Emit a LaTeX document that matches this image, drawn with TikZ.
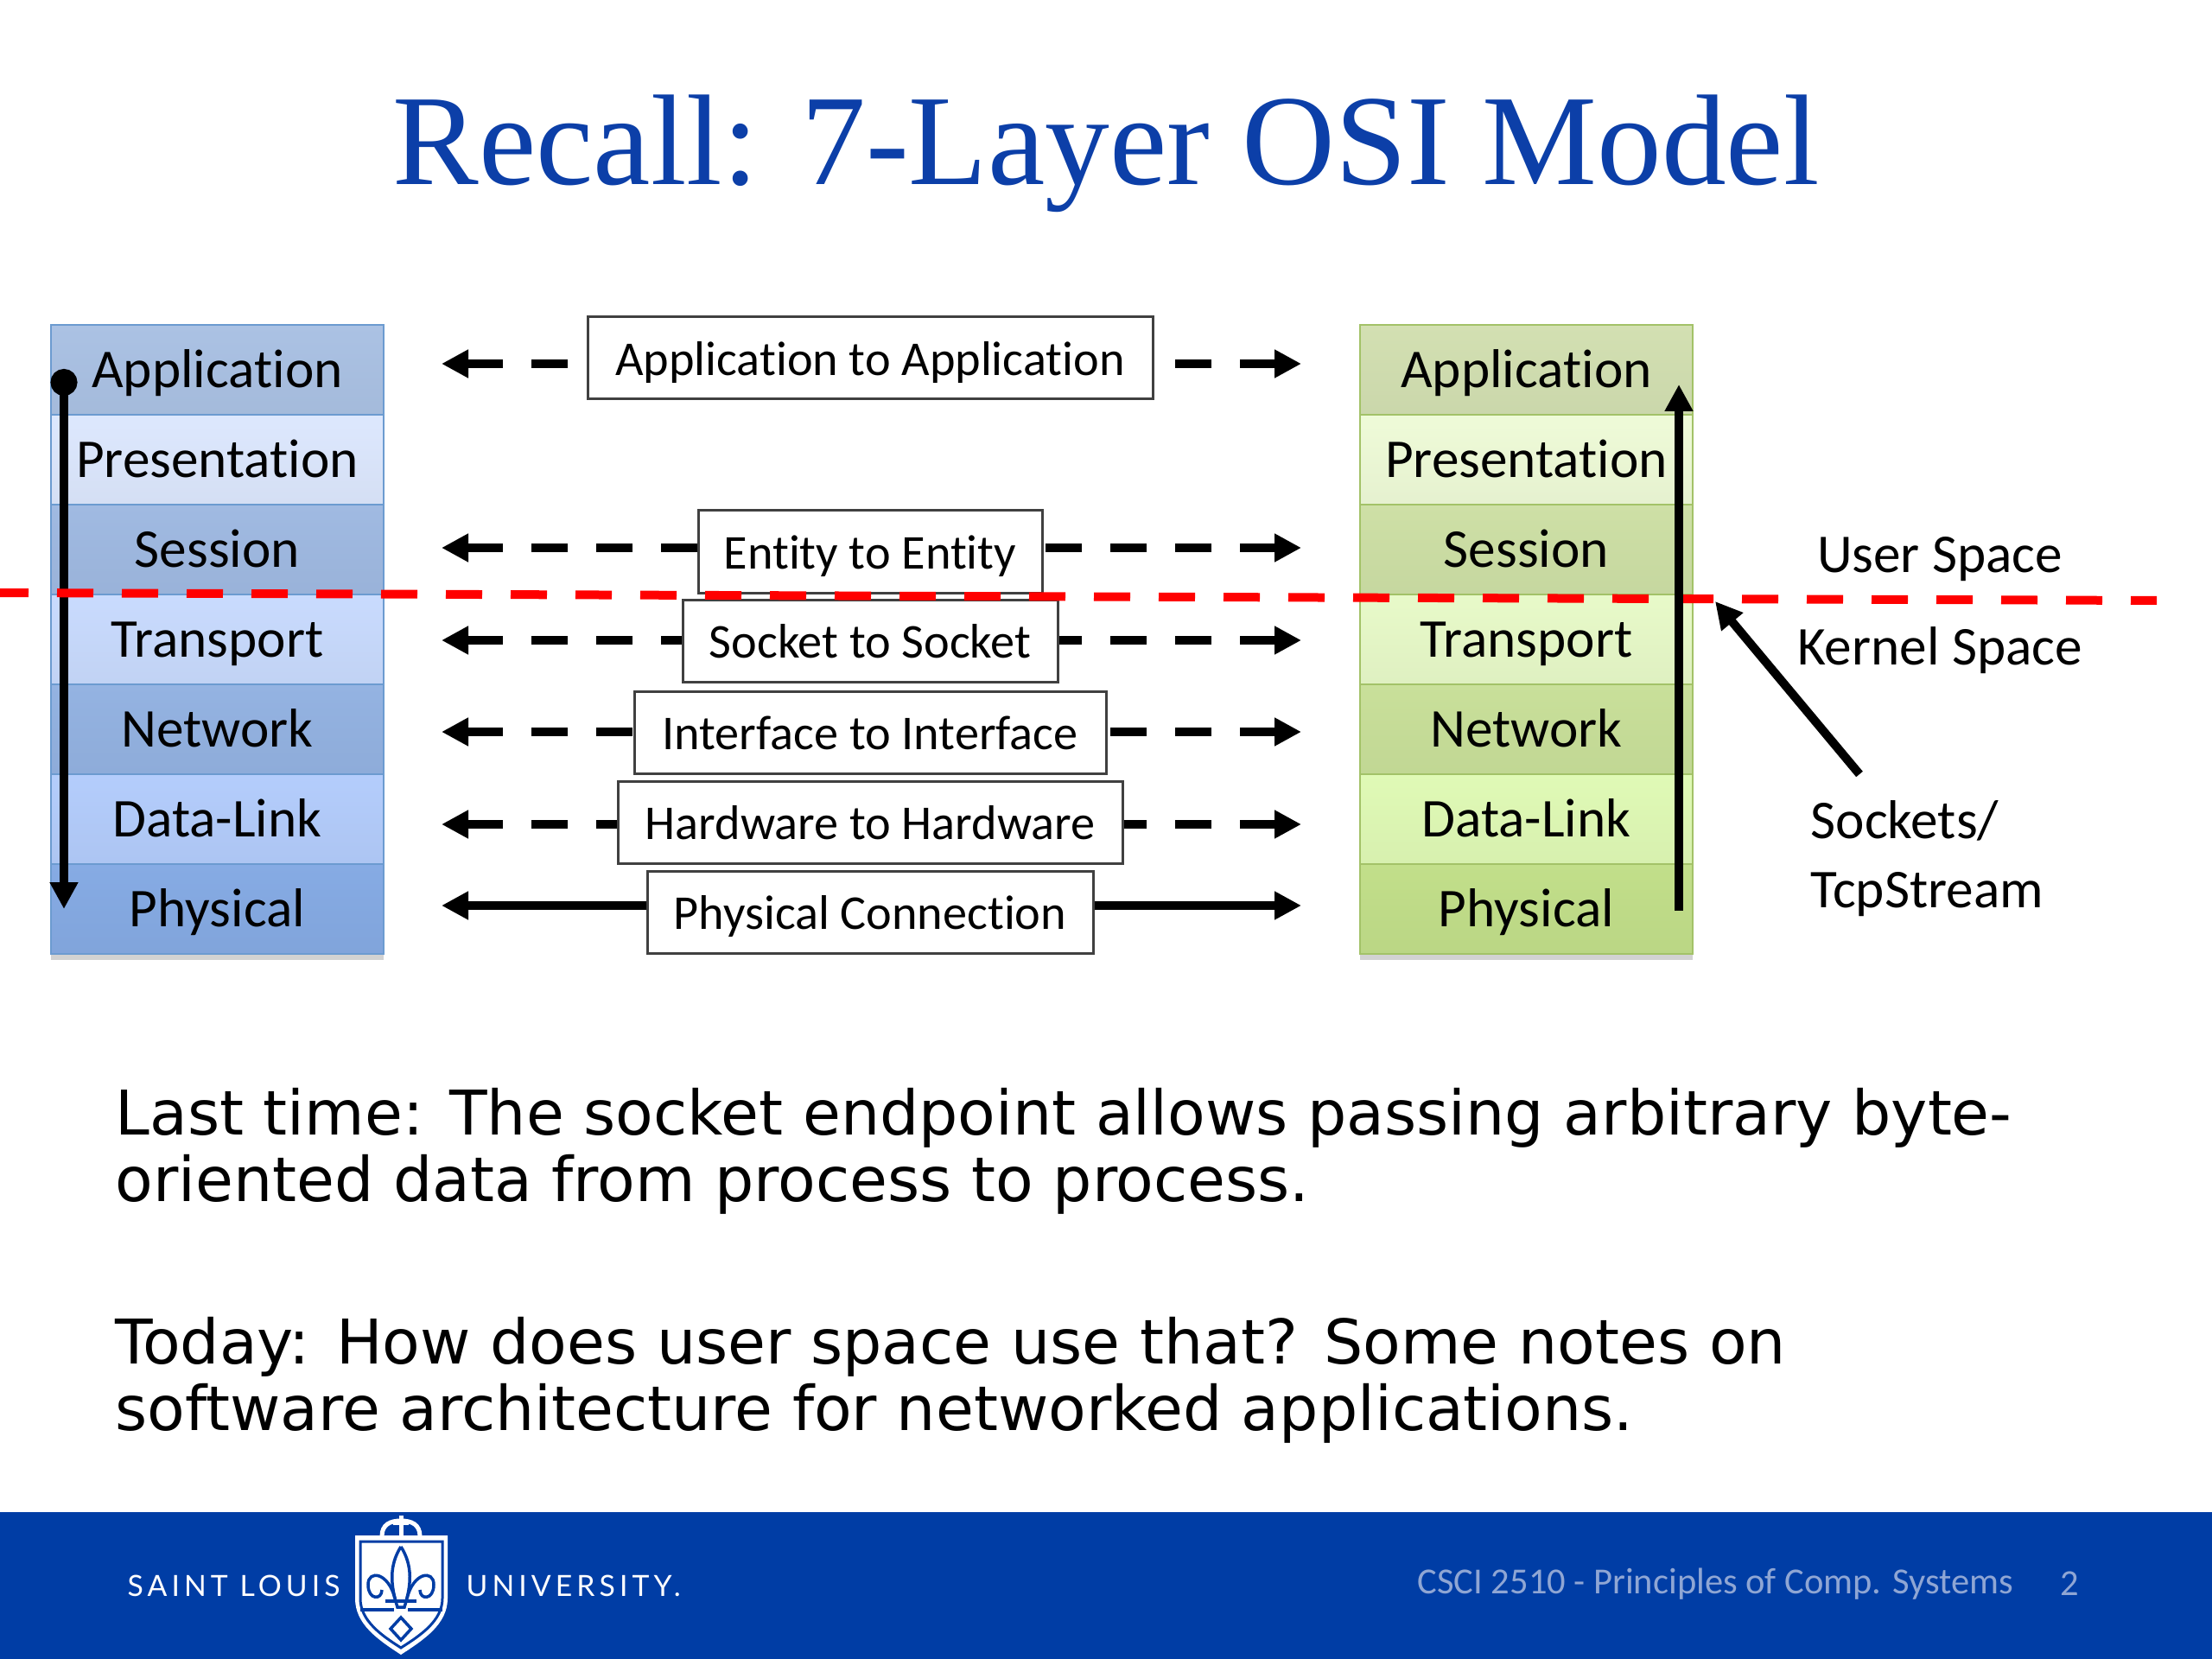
\documentclass[tikz,border=0pt]{standalone}
\usepackage{fontspec}
\setmainfont{Carlito}[Ligatures=CommonOff]
\newfontfamily\titlefont{Liberation Serif}
\newfontfamily\bodyfont{DejaVu Sans}
\newfontfamily\logofont[LetterSpace=15]{Lato}
\usepackage{xcolor}
\usetikzlibrary{positioning,arrows.meta,calc,shadows}
\definecolor{slublue}{HTML}{003DA5}
\definecolor{titleblue}{HTML}{0C3FA8}
\definecolor{footgray}{HTML}{8FA6D4}
\definecolor{lstack}{HTML}{6C9BD0}
\definecolor{rstack}{HTML}{A3C268}
\definecolor{lc1}{HTML}{ABC2E4}
\definecolor{lc2}{HTML}{DDE8FE}
\definecolor{lc3}{HTML}{A0BAE2}
\definecolor{lc4}{HTML}{C9DBFE}
\definecolor{lc5}{HTML}{94B3E2}
\definecolor{lc6}{HTML}{B4CDFC}
\definecolor{lc7}{HTML}{86ABE4}
\definecolor{rc1}{HTML}{D3E0B2}
\definecolor{rc2}{HTML}{EFFBD8}
\definecolor{rc3}{HTML}{CEE0A6}
\definecolor{rc4}{HTML}{E8FAC9}
\definecolor{rc5}{HTML}{C9E09A}
\definecolor{rc6}{HTML}{E0FAB6}
\definecolor{rc7}{HTML}{C2DF8A}

\begin{document}
\begin{tikzpicture}[
  x=1cm,y=-1cm,
  >={Triangle[length=0.31cm,width=0.31cm]},
  lay/.style={minimum width=3.85cm,minimum height=1.04cm,inner sep=0pt,outer sep=0pt,
    font=\fontsize{18}{22}\selectfont,text height=15.3pt,text depth=3.5pt,
    drop shadow={shadow xshift=0pt,shadow yshift=-2pt,opacity=0.35}},
  peer/.style={draw=black!75,line width=0.03cm,fill=white,minimum height=0.95cm,inner sep=0pt,
    font=\fontsize{16}{20}\selectfont,text height=14.3pt,text depth=3pt},
  dashline/.style={line width=0.1cm,dash pattern=on 0.42cm off 0.33cm},
  solidline/.style={line width=0.1cm},
  side/.style={font=\fontsize{18}{22.6}\selectfont,align=left,inner sep=0pt},
  body/.style={font=\bodyfont\fontsize{20.3}{21.7}\selectfont,align=left,anchor=north west,inner sep=0pt},
]
\useasboundingbox (0,0) rectangle (25.6,19.2);
\fill[white] (0,0) rectangle (25.6,19.2);
\node[font=\titlefont\fontsize{42.5}{46}\selectfont,text=titleblue] (title) at (12.8,1.78) {Recall: 7-Layer OSI Model};

% two stacks
\foreach \i/\lab in {1/Application,2/Presentation,3/Session,4/Transport,5/Network,6/Data-Link,7/Physical}{
  \node[lay,draw=lstack,top color=lc\i,bottom color=lc\i!96!black] (L\i) at (2.515,{4.28+1.04*(\i-1)}) {\lab};
  \node[lay,draw=rstack,top color=rc\i,bottom color=rc\i!96!black] (R\i) at (17.665,{4.28+1.04*(\i-1)}) {\lab};
}

% peer boxes and their arrows
\foreach \k/\cy/\w/\ay/\st/\lab in {1/4.145/6.54/4.21/dashline/Application to Application,
    2/6.385/3.98/6.34/dashline/Entity to Entity,
    3/7.42/4.34/7.41/dashline/Socket to Socket,
    4/8.48/5.46/8.47/dashline/Interface to Interface,
    5/9.52/5.84/9.54/dashline/Hardware to Hardware,
    6/10.56/5.16/10.48/solidline/Physical Connection}{
  \node[peer,minimum width=\w cm] (B\k) at (10.07,\cy) {\lab};
  \coordinate (pl\k) at (5.11,\ay);
  \coordinate (pr\k) at (15.06,\ay);
  \draw[<-,\st] (pl\k) -- (pl\k -| B\k.west);
  \draw[<-,\st] (pr\k) -- (pr\k -| B\k.east);
}

% send path
\coordinate (sendtop) at (0.74,4.27);
\coordinate (sendbot) at (0.74,10.52);
\draw[{Circle[length=0.31cm]}->,line width=0.1cm] (sendtop) -- (sendbot);

% user/kernel split
\coordinate (splitl) at (0,6.86);
\coordinate (splitr) at (24.96,6.95);
\draw[red,line width=0.1cm,dash pattern=on 0.42cm off 0.33cm,dash phase=0.09cm] (splitl) -- (splitr);

% receive path
\coordinate (recvbot) at (19.43,10.54);
\coordinate (recvtop) at (19.43,4.45);
\draw[->,line width=0.1cm] (recvbot) -- (recvtop);

\node[side] (user) at (22.45,6.47) {User Space};
\node[side] (kernel) at (22.45,7.53) {Kernel Space};
\node[side,anchor=north west] (sock) at (20.95,9.26) {Sockets/\\TcpStream};
\coordinate (socktail) at (21.52,8.96);
\coordinate (socktip) at (19.85,6.96);
\draw[->,line width=0.1cm] (socktail) -- (socktip);

\node[body] (last) at (1.33,12.59) {Last time: The socket endpoint allows passing arbitrary byte-\\oriented data from process to process.};
\node[body] (today) at (1.33,15.24) {Today: How does user space use that? Some notes on\\software architecture for networked applications.};

% footer
\fill[slublue] (0,17.5) rectangle (25.6,19.2);
\node[font=\logofont\fontsize{9.6}{12}\selectfont,text=white,anchor=west,inner sep=0pt] (slu) at (1.47,18.35) {SAINT LOUIS};
\node[font=\logofont\fontsize{9.6}{12}\selectfont,text=white,anchor=west,inner sep=0pt] (univ) at (5.39,18.35) {UNIVERSITY.};
\node[font=\fontsize{12.1}{15}\selectfont,text=footgray,anchor=west,inner sep=0pt] (course) at (16.4,18.33) {CSCI 2510 - Principles of Comp. Systems};
\node[font=\fontsize{12.1}{15}\selectfont,text=footgray,inner sep=0pt] (page) at (23.95,18.33) {2};

% shield
\draw[white,line width=0.05cm] (4.42,17.78) .. controls (4.42,17.64) and (4.52,17.6) .. (4.64,17.6) .. controls (4.76,17.6) and (4.86,17.64) .. (4.86,17.78);
\draw[white,line width=0.05cm] (4.64,17.54) -- (4.64,17.8) (4.55,17.62) -- (4.73,17.62);
\fill[white] (4.11,17.77) -- (5.18,17.77) -- (5.18,18.5) .. controls (5.18,18.8) and (4.9,18.98) .. (4.64,19.15) .. controls (4.38,18.98) and (4.11,18.8) .. (4.11,18.5) -- cycle;
\draw[slublue,line width=0.03cm] (4.17,17.84) -- (5.12,17.84) -- (5.12,18.5) .. controls (5.12,18.76) and (4.86,18.93) .. (4.64,19.07) .. controls (4.42,18.93) and (4.17,18.76) .. (4.17,18.5) -- cycle;
\draw[slublue,line width=0.035cm] (4.64,17.9) .. controls (4.5,18.12) and (4.52,18.35) .. (4.6,18.6) -- (4.68,18.6) .. controls (4.76,18.35) and (4.78,18.12) .. (4.64,17.9);
\draw[slublue,line width=0.035cm] (4.57,18.5) .. controls (4.5,18.2) and (4.26,18.16) .. (4.26,18.34) .. controls (4.26,18.52) and (4.42,18.52) .. (4.42,18.4);
\draw[slublue,line width=0.035cm] (4.71,18.5) .. controls (4.78,18.2) and (5.02,18.16) .. (5.02,18.34) .. controls (5.02,18.52) and (4.86,18.52) .. (4.86,18.4);
\draw[slublue,line width=0.035cm] (4.17,18.63) -- (4.56,18.63) (4.72,18.63) -- (5.12,18.63) (4.46,18.53) -- (4.82,18.53);
\draw[slublue,line width=0.035cm] (4.64,18.72) -- (4.76,18.85) -- (4.64,18.98) -- (4.52,18.85) -- cycle;
\end{tikzpicture}
\end{document}
